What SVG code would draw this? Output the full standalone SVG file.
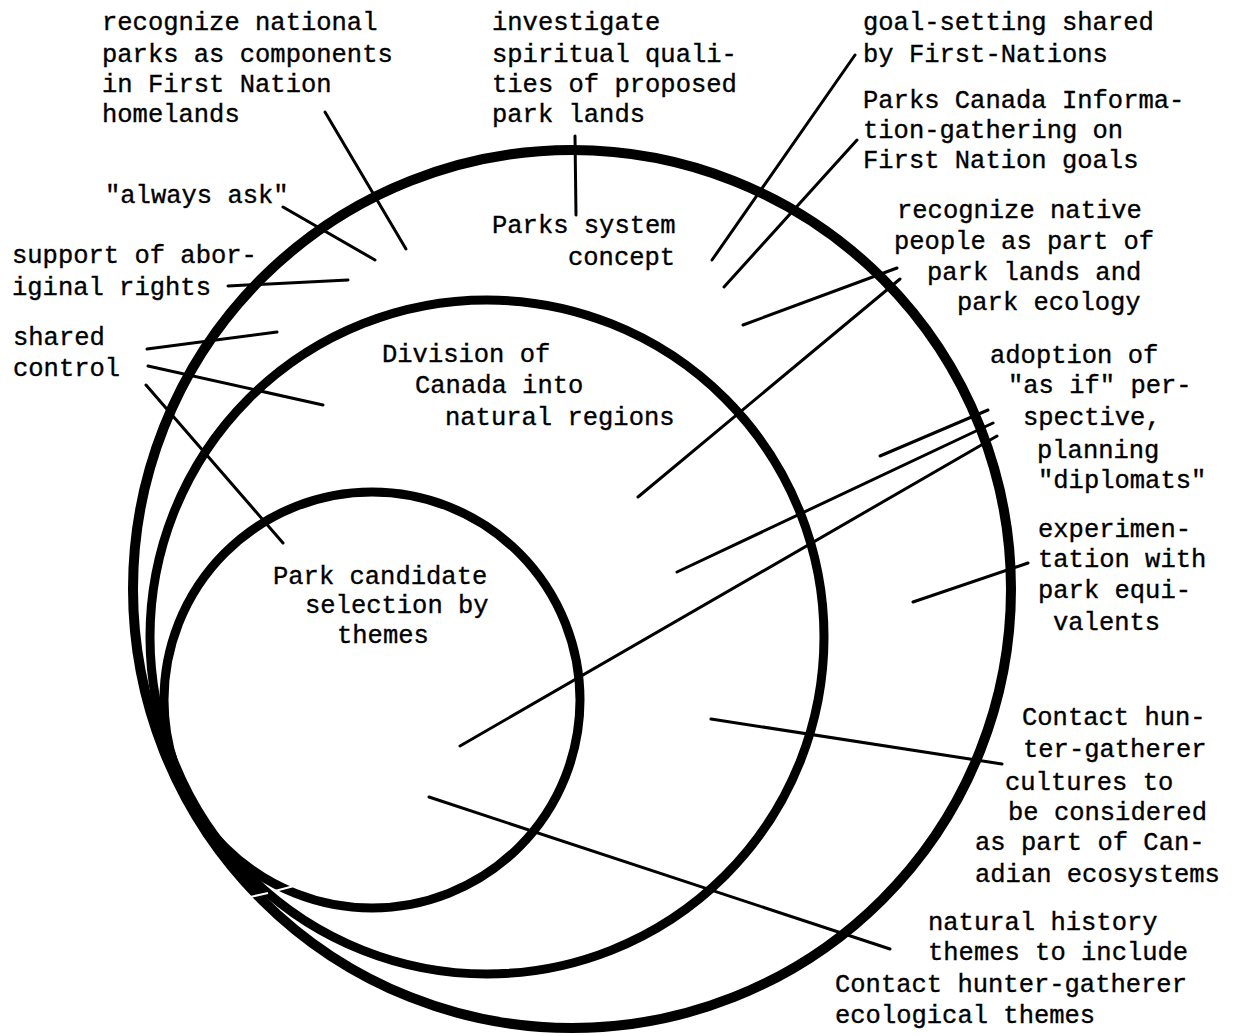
<svg xmlns="http://www.w3.org/2000/svg" width="1238" height="1036" viewBox="0 0 1238 1036">
  <style>
    .ring { fill: none; stroke: #000; }
    .lead { stroke: #000; stroke-width: 3; stroke-linecap: round; fill: none; }
    text { font-family: "Liberation Mono", "DejaVu Sans Mono", monospace; font-size: 25.5px; fill: #000; stroke: #000; stroke-width: 0.35; }
  </style>
  <rect width="1238" height="1036" fill="#fff"/>

  <!-- nested planning circles -->
  <g id="ring-parks-system">
    <circle class="ring" cx="572" cy="589" r="439" stroke-width="10"/>
    <text x="492" y="233">Parks system</text>
    <text x="568" y="265">concept</text>
  </g>
  <g id="ring-natural-regions">
    <circle class="ring" cx="487" cy="637" r="337" stroke-width="9"/>
    <text x="382" y="362">Division of</text>
    <text x="415" y="393">Canada into</text>
    <text x="445" y="425">natural regions</text>
  </g>
  <g id="ring-candidate-selection">
    <circle class="ring" cx="372" cy="700" r="208" stroke-width="9"/>
    <text x="273" y="584">Park candidate</text>
    <text x="305" y="613">selection by</text>
    <text x="337" y="643">themes</text>
  </g>
  <!-- small breaks where the rings meet -->
  <g id="ring-breaks" stroke="#fff" stroke-width="2">
    <line x1="250" y1="897" x2="268" y2="893"/>
    <line x1="275" y1="891" x2="294" y2="886"/>
  </g>

  <!-- labels -->
  <g id="label-homelands">
    <text x="102" y="30">recognize national</text>
    <text x="102" y="62">parks as components</text>
    <text x="102" y="92">in First Nation</text>
    <text x="102" y="122">homelands</text>
  </g>
  <g id="label-spiritual">
    <text x="492" y="30">investigate</text>
    <text x="492" y="62">spiritual quali-</text>
    <text x="492" y="92">ties of proposed</text>
    <text x="492" y="122">park lands</text>
  </g>
  <g id="label-goal-setting">
    <text x="863" y="30">goal-setting shared</text>
    <text x="863" y="62">by First-Nations</text>
  </g>
  <g id="label-information">
    <text x="863" y="108">Parks Canada Informa-</text>
    <text x="863" y="138">tion-gathering on</text>
    <text x="863" y="168">First Nation goals</text>
  </g>
  <g id="label-native-people">
    <text x="897" y="218">recognize native</text>
    <text x="894" y="249">people as part of</text>
    <text x="927" y="280">park lands and</text>
    <text x="957" y="310">park ecology</text>
  </g>
  <g id="label-as-if">
    <text x="990" y="363">adoption of</text>
    <text x="1008" y="393">"as if" per-</text>
    <text x="1023" y="425">spective,</text>
    <text x="1037" y="458">planning</text>
    <text x="1038" y="488">"diplomats"</text>
  </g>
  <g id="label-equivalents">
    <text x="1038" y="537">experimen-</text>
    <text x="1038" y="567">tation with</text>
    <text x="1038" y="598">park equi-</text>
    <text x="1053" y="630">valents</text>
  </g>
  <g id="label-cultures">
    <text x="1022" y="725">Contact hun-</text>
    <text x="1023" y="757">ter-gatherer</text>
    <text x="1005" y="790">cultures to</text>
    <text x="1008" y="820">be considered</text>
    <text x="975" y="850">as part of Can-</text>
    <text x="975" y="882">adian ecosystems</text>
  </g>
  <g id="label-history-themes">
    <text x="928" y="930">natural history</text>
    <text x="928" y="960">themes to include</text>
    <text x="835" y="992">Contact hunter-gatherer</text>
    <text x="835" y="1023">ecological themes</text>
  </g>
  <g id="label-always-ask">
    <text x="105" y="203">"always ask"</text>
  </g>
  <g id="label-aboriginal-rights">
    <text x="12" y="263">support of abor-</text>
    <text x="12" y="295">iginal rights</text>
  </g>
  <g id="label-shared-control">
    <text x="13" y="345">shared</text>
    <text x="13" y="376">control</text>
  </g>

  <!-- leader lines -->
  <g id="connectors">
    <line class="lead" x1="325" y1="112" x2="406" y2="249"/>
    <line class="lead" x1="575" y1="136" x2="576" y2="215"/>
    <line class="lead" x1="855" y1="55" x2="712" y2="260"/>
    <line class="lead" x1="857" y1="140" x2="724" y2="287"/>
    <line class="lead" x1="897" y1="268" x2="743" y2="325"/>
    <line class="lead" x1="900" y1="279" x2="638" y2="497"/>
    <line class="lead" x1="988" y1="410" x2="880" y2="456"/>
    <line class="lead" x1="993" y1="423" x2="677" y2="572"/>
    <line class="lead" x1="997" y1="436" x2="460" y2="746"/>
    <line class="lead" x1="1028" y1="563" x2="913" y2="602"/>
    <line class="lead" x1="1002" y1="764" x2="711" y2="719"/>
    <line class="lead" x1="890" y1="949" x2="429" y2="797"/>
    <line class="lead" x1="283" y1="207" x2="375" y2="260"/>
    <line class="lead" x1="228" y1="286" x2="348" y2="280"/>
    <line class="lead" x1="147" y1="349" x2="277" y2="332"/>
    <line class="lead" x1="148" y1="366" x2="323" y2="405"/>
    <line class="lead" x1="146" y1="385" x2="283" y2="543"/>
  </g>
</svg>
